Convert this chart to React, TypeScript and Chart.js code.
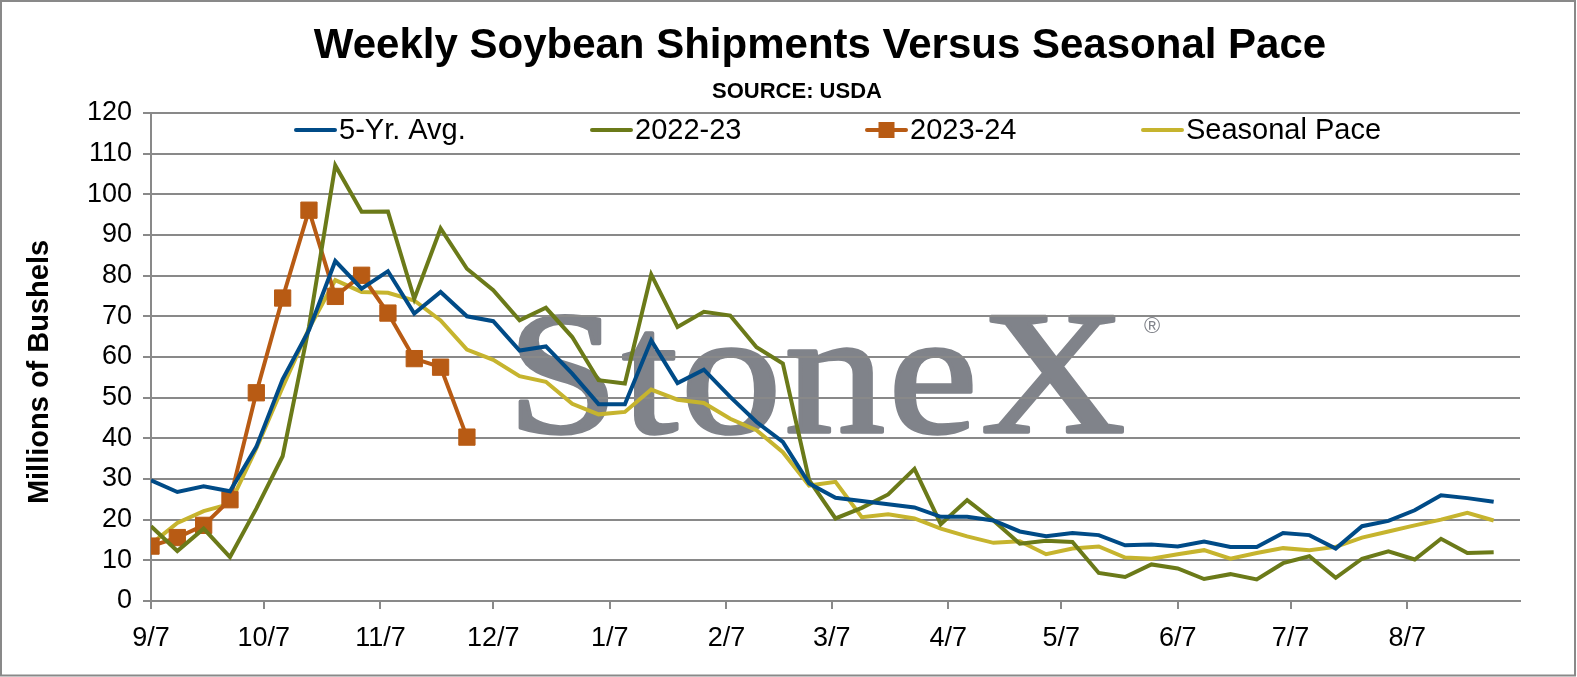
import { useEffect, useRef } from 'react';
import Chart from 'chart.js/auto';

// week index i -> day offset 7*i from 9/7
const fiveYrAvg = [29.7, 26.8, 28.2, 27.0, 37.9, 54.5, 66.6, 83.6, 76.8, 81.1, 70.7, 76.0, 70.0, 68.8, 61.6, 62.6, 55.9, 48.4, 48.4, 64.1, 53.6, 56.9, 50.2, 44.0, 39.1, 28.9, 25.4, 24.6, 23.8, 23.0, 20.7, 20.7, 19.8, 17.1, 15.9, 16.7, 16.2, 13.7, 13.9, 13.4, 14.6, 13.3, 13.3, 16.7, 16.2, 12.9, 18.4, 19.7, 22.3, 26.0, 25.3, 24.4];
const season2223 = [18.4, 12.3, 17.8, 10.8, 22.7, 35.6, 67.4, 107.1, 95.7, 95.8, 74.3, 91.6, 81.7, 76.4, 69.0, 72.1, 64.9, 54.3, 53.5, 80.3, 67.4, 71.1, 70.2, 62.4, 58.4, 29.7, 20.3, 22.9, 26.2, 32.5, 18.9, 24.8, 19.8, 14.1, 14.8, 14.5, 6.9, 5.9, 9.0, 8.0, 5.4, 6.6, 5.3, 9.3, 11.0, 5.7, 10.4, 12.2, 10.2, 15.3, 11.8, 12.0];
const season2324 = [13.5, 15.6, 18.6, 24.9, 51.2, 74.5, 96.1, 74.9, 80.1, 70.8, 59.6, 57.5, 40.3];
const seasonalPace = [14.0, 19.2, 22.1, 23.9, 37.5, 52.6, 67.0, 78.9, 76.0, 75.8, 73.9, 69.0, 61.8, 59.3, 55.3, 53.9, 48.5, 45.9, 46.5, 52.0, 49.5, 48.7, 44.8, 42.0, 36.6, 28.4, 29.3, 20.6, 21.3, 20.3, 17.8, 15.9, 14.3, 14.7, 11.5, 12.9, 13.4, 10.7, 10.4, 11.5, 12.5, 10.4, 11.8, 13.0, 12.5, 13.3, 15.6, 17.1, 18.6, 20.0, 21.7, 19.8];

const seriesNames = ['5-Yr. Avg.', '2022-23', '2023-24', 'Seasonal Pace'];
const seriesColors = ['#004B87', '#6B7A19', '#B85B14', '#C6B42E'];

const tickLabels = ['9/7', '10/7', '11/7', '12/7', '1/7', '2/7', '3/7', '4/7', '5/7', '6/7', '7/7', '8/7'];
const tickDays = [0, 30, 61, 91, 122, 153, 181, 212, 242, 273, 303, 334];

const toPoints = (vals: number[]) => vals.map((y, i) => ({ x: i * 7, y }));

const GRID = '#898989';
const SANS = "'Liberation Sans', Arial, sans-serif";

const decorPlugin = {
  id: 'decor',
  beforeDraw(chart: any) {
    const { ctx } = chart;
    ctx.save();
    ctx.fillStyle = '#fff';
    ctx.fillRect(0, 0, chart.width, chart.height);
    // StoneX watermark: regular serif thickened with a stroke, stretched to the logo width
    ctx.fillStyle = '#80838a';
    ctx.strokeStyle = '#80838a';
    ctx.lineWidth = 3.5;
    ctx.lineJoin = 'round';
    ctx.font = "176px 'Liberation Serif', serif";
    ctx.textBaseline = 'alphabetic';
    ctx.textAlign = 'left';
    const word = 'StoneX';
    (ctx as any).letterSpacing = '3px';
    const w = ctx.measureText(word).width;
    ctx.save();
    ctx.translate(507, 432);
    ctx.scale(622 / w, 1);
    ctx.fillText(word, 0, 0);
    ctx.strokeText(word, 0, 0);
    ctx.restore();
    (ctx as any).letterSpacing = '0px';
    ctx.font = "22px 'Liberation Sans', sans-serif";
    ctx.textBaseline = 'middle';
    ctx.fillText('\u00AE', 1144, 327);
    ctx.restore();
  },
  afterDraw(chart: any) {
    const { ctx, chartArea } = chart;
    ctx.save();
    ctx.fillStyle = '#000';
    ctx.textBaseline = 'alphabetic';
    ctx.textAlign = 'center';
    ctx.font = `bold 42px ${SANS}`;
    ctx.fillText('Weekly Soybean Shipments Versus Seasonal Pace', 820, 58);
    ctx.font = `bold 22px ${SANS}`;
    ctx.fillText('SOURCE: USDA', 797, 98);

    // y-axis title
    ctx.save();
    ctx.translate(40, 372);
    ctx.rotate(-Math.PI / 2);
    ctx.textBaseline = 'middle';
    ctx.font = `bold 29px ${SANS}`;
    ctx.fillText('Millions of Bushels', 0, 0);
    ctx.restore();

    // legend
    const itemX = [294, 590, 865, 1141];
    const ly = chartArea.top + 17;
    ctx.font = `29px ${SANS}`;
    ctx.textAlign = 'left';
    ctx.textBaseline = 'middle';
    chart.data.datasets.forEach((ds: any, i: number) => {
      const x0 = itemX[i];
      ctx.strokeStyle = ds.borderColor;
      ctx.lineWidth = 4;
      ctx.lineCap = 'round';
      ctx.beginPath();
      ctx.moveTo(x0 + 2, ly);
      ctx.lineTo(x0 + 41, ly);
      ctx.stroke();
      if (ds.pointRadius > 0) {
        ctx.fillStyle = ds.borderColor;
        ctx.fillRect(x0 + 13.5, ly - 8, 16, 16);
      }
      ctx.fillStyle = '#000';
      ctx.fillText(ds.label, x0 + 45, ly + 1);
    });

    // outer frame
    ctx.strokeStyle = GRID;
    ctx.lineWidth = 2;
    ctx.strokeRect(1, 1, 1574, 674.5);
    ctx.restore();
  },
};

const App = () => {
  const canvasRef = useRef<HTMLCanvasElement>(null);

  useEffect(() => {
    document.body.style.margin = '0';
    if (!canvasRef.current) return;
    const chart = new Chart(canvasRef.current, {
      type: 'line',
      data: {
        datasets: [
          { label: seriesNames[0], data: toPoints(fiveYrAvg), borderColor: seriesColors[0], backgroundColor: seriesColors[0], borderWidth: 4, pointRadius: 0, tension: 0 },
          { label: seriesNames[1], data: toPoints(season2223), borderColor: seriesColors[1], backgroundColor: seriesColors[1], borderWidth: 4, pointRadius: 0, tension: 0 },
          { label: seriesNames[2], data: toPoints(season2324), borderColor: seriesColors[2], backgroundColor: seriesColors[2], borderWidth: 4, pointRadius: 11.5, pointHoverRadius: 11.5, pointStyle: 'rect', pointBorderWidth: 1, tension: 0 },
          { label: seriesNames[3], data: toPoints(seasonalPace), borderColor: seriesColors[3], backgroundColor: seriesColors[3], borderWidth: 4, pointRadius: 0, tension: 0 },
        ],
      },
      options: {
        animation: false,
        responsive: true,
        maintainAspectRatio: false,
        layout: { padding: { top: 113, right: 57, bottom: 0, left: 0 } },
        plugins: {
          legend: { display: false },
          title: { display: false },
          tooltip: { enabled: false },
        },
        scales: {
          x: {
            type: 'linear',
            min: 0,
            max: 364,
            afterBuildTicks: (s: any) => {
              s.ticks = tickDays.map((v) => ({ value: v }));
            },
            afterFit: (s: any) => {
              s.height = 76;
            },
            ticks: {
              autoSkip: false,
              maxRotation: 0,
              color: '#000',
              padding: 13,
              font: { family: SANS, size: 27 },
              callback: (_v: any, i: number) => tickLabels[i],
            },
            grid: { drawOnChartArea: false, drawTicks: true, tickLength: 8, color: GRID, lineWidth: 2 },
            border: { display: true, color: GRID, width: 2 },
          },
          y: {
            min: 0,
            max: 120,
            afterFit: (s: any) => {
              s.width = 151;
            },
            ticks: {
              stepSize: 10,
              color: '#000',
              padding: 11,
              font: { family: SANS, size: 27 },
            },
            grid: { color: GRID, lineWidth: 2, tickLength: 8 },
            border: { display: true, color: GRID, width: 2 },
          },
        },
      },
      plugins: [decorPlugin],
    });
    return () => chart.destroy();
  }, []);

  return (
    <div style={{ position: 'relative', width: '1577px', height: '677px' }}>
      <canvas ref={canvasRef} />
    </div>
  );
};

export default App;
